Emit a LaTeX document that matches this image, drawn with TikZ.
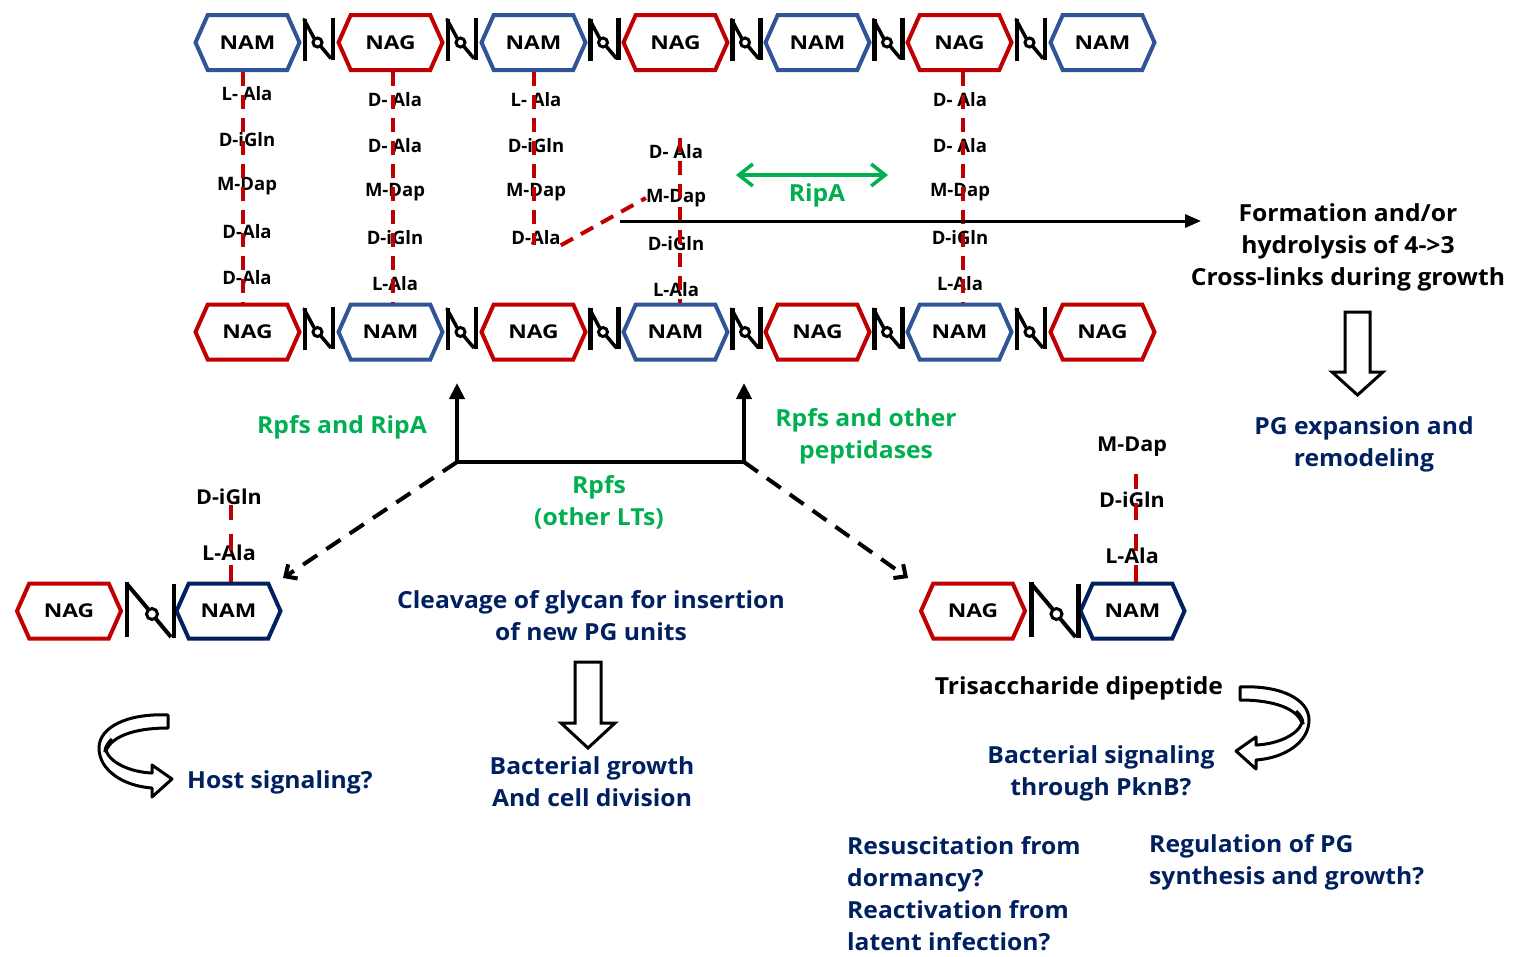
\documentclass[tikz,border=0pt]{standalone}
\usepackage{fontspec}
\setmainfont{Open Sans}
\newfontfamily\hexfont{Open Sans}[FakeStretch=1.2]
\newfontfamily\lblfont{Open Sans}[FakeStretch=1.05]
\usetikzlibrary{shapes.symbols,arrows.meta,calc}

\definecolor{glred}{HTML}{C00000}
\definecolor{nammid}{HTML}{2F5597}
\definecolor{navy}{HTML}{002060}
\definecolor{rpfgreen}{HTML}{00B050}

\tikzset{
  sugar/.style={signal, signal to=west and east, signal pointer angle=132,
    line width=4pt, minimum width=104pt, minimum height=55pt, inner sep=0pt,
    fill=white, font=\hexfont\bfseries\fontsize{19}{22}\selectfont},
  nag/.style={sugar, draw=glred},
  nam/.style={sugar, draw=nammid},
  namdark/.style={sugar, draw=navy},
  stem/.style={draw=glred, line width=4pt, dash pattern=on 14pt off 9pt},
  pep/.style={font=\bfseries\fontsize{18.5}{20}\selectfont, inner sep=0pt},
  pepbig/.style={font=\lblfont\bfseries\fontsize{20.5}{22}\selectfont, inner sep=0pt},
  lbl/.style={font=\lblfont\bfseries\fontsize{23.5}{32}\selectfont, align=center, inner sep=0pt},
  gtxt/.style={lbl, text=rpfgreen},
  ntxt/.style={lbl, text=navy},
  ktxt/.style={lbl, text=black},
  solidarrow/.style={line width=4pt, -{Triangle[length=16pt,width=15pt]}},
  dasharrow/.style={line width=4pt, dash pattern=on 17pt off 11pt,
    -{Straight Barb[length=9pt,width=17pt,line width=4pt]}},
  blockarrow/.style={draw=black, fill=white, line width=3pt, line join=miter},
  glyc/.pic={
    \draw[line width=4.5pt] (-14,-24) -- (-14,18);
    \draw[line width=3.5pt, line cap=round] (-15,-23) -- (-5,-4.5);
    \draw[line width=3pt] (-1.5,0) circle[radius=4.5];
    \draw[line width=3.5pt] (1.5,3.5) -- (12,16);
    \draw[line width=4.5pt] (14,-25) -- (14,17);
  },
  glycbig/.pic={
    \draw[line width=4.5pt] (-24,-28) -- (-24,27);
    \draw[line width=4pt, line cap=round] (-24,-26) -- (-3,-1);
    \draw[line width=3pt] (1,4) circle[radius=5.5];
    \draw[line width=4pt] (5,9) -- (20,27);
    \draw[line width=4.5pt] (23,28) -- (23,-26);
  },
  uturn/.pic={
    \draw[blockarrow, line join=round]
      (0,0) .. controls (-40,-2) and (-69,12) .. (-69,33)
      .. controls (-69,55) and (-45,71) .. (-16,73)
      -- (-16,82) -- (4,64) -- (-16,50) -- (-16,58)
      .. controls (-38,57) and (-57,48) .. (-62,36)
      .. controls (-57,22) and (-35,13) .. (0,13) -- cycle;
    \draw[line width=3pt] (-56,24) .. controls (-63,30) and (-64,38) .. (-62,36);
  }
}

\begin{document}
\begin{tikzpicture}[x=1pt,y=-1pt]
\useasboundingbox (0,0) rectangle (1514,956);

% ---------- peptide stem labels, top panel ----------
\node[pep] (a1) at (247,94) {L- Ala};
\node[pep] (a2) at (247,140) {D-iGln};
\node[pep] (a3) at (247,186) {M-Dap};
\node[pep] (a4) at (247,232) {D-Ala};
\node[pep] (a5) at (247,278) {D-Ala};

\node[pep] (b1l) at (395,100) {D- Ala};
\node[pep] (b2l) at (395,146) {D- Ala};
\node[pep] (b3l) at (395,192) {M-Dap};
\node[pep] (b4l) at (395,238) {D-iGln};
\node[pep] (b5l) at (395,284) {L-Ala};

\node[pep] (c1) at (536,100) {L- Ala};
\node[pep] (c2) at (536,146) {D-iGln};
\node[pep] (c3) at (536,192) {M-Dap};
\node[pep] (c4) at (536,238) {D-Ala};

\node[pep] (d1) at (676,152) {D- Ala};
\node[pep] (d2) at (676,198) {M-Dap};
\node[pep] (d3) at (676,244) {D-iGln};
\node[pep] (d4) at (676,290) {L-Ala};

\node[pep] (e1) at (960,100) {D- Ala};
\node[pep] (e2) at (960,146) {D- Ala};
\node[pep] (e3) at (960,192) {M-Dap};
\node[pep] (e4) at (960,238) {D-iGln};
\node[pep] (e5) at (960,284) {L-Ala};

% ---------- glycan strands ----------
\node[nam] (t1) at (247.5,42.5) {NAM};
\node[nag] (t2) at (390.5,42.5) {NAG};
\node[nam] (t3) at (533.5,42.5) {NAM};
\node[nag] (t4) at (675.5,42.5) {NAG};
\node[nam] (t5) at (817.5,42.5) {NAM};
\node[nag] (t6) at (959.5,42.5) {NAG};
\node[nam] (t7) at (1102.5,42.5) {NAM};

\node[nag] (u1) at (247.5,332) {NAG};
\node[nam] (u2) at (390.5,332) {NAM};
\node[nag] (u3) at (533.5,332) {NAG};
\node[nam] (u4) at (675.5,332) {NAM};
\node[nag] (u5) at (817.5,332) {NAG};
\node[nam] (u6) at (959.5,332) {NAM};
\node[nag] (u7) at (1102.5,332) {NAG};

\foreach \p/\q in {t1/t2,t2/t3,t3/t4,t4/t5,t5/t6,t6/t7,u1/u2,u2/u3,u3/u4,u4/u5,u5/u6,u6/u7}
  \pic at ($(\p.east)!.5!(\q.west)$) {glyc};

% ---------- peptide stems ----------
\draw[stem] ([xshift=-5pt]t1.south) -- ([xshift=-5pt]u1.north);
\draw[stem] ([xshift=2pt]t2.south) -- ([xshift=2pt]u2.north);
\draw[stem] (t3.south) -- (t3.south |- c4.south);
\draw[stem] (c4.south east) -- (d2.west);
\coordinate (dtop) at (680,138);
\draw[stem] (dtop) -- ([xshift=4.5pt]u4.north);
\draw[stem] ([xshift=3.5pt]t6.south) -- ([xshift=3.5pt]u6.north);

% ---------- RipA / cross-link arrows ----------
\coordinate (ra) at (736,175);
\coordinate (rb) at (888,175);
\draw[rpfgreen, line width=3.5pt,
  {Straight Barb[length=14pt,width=22pt]}-{Straight Barb[length=14pt,width=22pt]}] (ra) -- (rb);
\node[gtxt] (ripa) at (817,195) {RipA};

\node[ktxt] (form) at (1348,247) {Formation and/or\\hydrolysis of 4->3\\Cross-links during growth};
\coordinate (xl) at (620,221);
\coordinate (xr) at (1201,221);
\draw[line width=3pt, -{Triangle[length=16pt,width=13pt]}] (xl) -- (xr);

\draw[blockarrow] (1345,312) -- (1370,312) -- (1370,372) -- (1383,372)
  -- (1357.5,395) -- (1332,372) -- (1345,372) -- cycle;
\node[ntxt] (pgexp) at (1364,444) {PG expansion and\\remodeling};

% ---------- enzyme branches ----------
\coordinate (jl) at (457,462);
\coordinate (jr) at (744,462);
\coordinate (tl) at (457,383);
\coordinate (tr) at (744,383);
\draw[line width=4pt] (jl) -- (jr);
\draw[solidarrow] (jl) -- (tl);
\draw[solidarrow] (jr) -- (tr);

\node[gtxt] (rr) at (342,427) {Rpfs and RipA};
\node[gtxt] (rop) at (866,436) {Rpfs and other\\peptidases};
\node[gtxt] (rlt) at (599,502) {Rpfs\\(other LTs)};

% ---------- left product ----------
\node[nag] (ln1) at (69,611) {NAG};
\node[namdark] (ln2) at (228.5,611) {NAM};
\pic at (151,610) {glycbig};
\node[pepbig] (lp1) at (229,497) {D-iGln};
\node[pepbig] (lp2) at (229,553) {L-Ala};
\draw[stem, dash pattern=on 17pt off 14pt] ([xshift=2.5pt]ln2.north) -- ++(0,-77);

\coordinate (lend) at (283,578);
\draw[dasharrow] (jl) -- (lend);

% ---------- right product ----------
\node[nag] (rn1) at (973,611) {NAG};
\node[namdark] (rn2) at (1132.5,611) {NAM};
\pic at (1055.5,610) {glycbig};
\node[pepbig] (rp1) at (1132,447) {M-Dap};
\node[pepbig] (rp2) at (1132,500) {D-iGln};
\node[pepbig] (rp3) at (1132,556) {L-Ala};
\draw[stem, dash pattern=on 17pt off 14pt] ([xshift=3.5pt]rn2.north) -- ++(0,-108);

\coordinate (rend) at (908,578);
\draw[dasharrow] (jr) -- (rend);

% ---------- middle outcome ----------
\node[ntxt] (cleave) at (591,616) {Cleavage of glycan for insertion\\of new PG units};
\draw[blockarrow] (575,662) -- (601,662) -- (601,723) -- (615,723)
  -- (588,748) -- (561,723) -- (575,723) -- cycle;
\node[ntxt] (growth) at (592,782) {Bacterial growth\\And cell division};

% ---------- host / bacterial signalling ----------
\pic at (168,715) {uturn};
\node[ntxt, anchor=west] (host) at (187,782) {Host signaling?};

\node[ktxt] (tri) at (1079,688) {Trisaccharide dipeptide};
\pic[xscale=-1] at (1240,687) {uturn};
\node[ntxt] (pknb) at (1101,773) {Bacterial signaling\\through PknB?};

\node[ntxt, anchor=west, align=left] (dorm) at (847,894)
  {Resuscitation from\\dormancy?\\Reactivation from\\latent infection?};
\node[ntxt, anchor=west, align=left] (regul) at (1149,862)
  {Regulation of PG\\synthesis and growth?};
\end{tikzpicture}
\end{document}
